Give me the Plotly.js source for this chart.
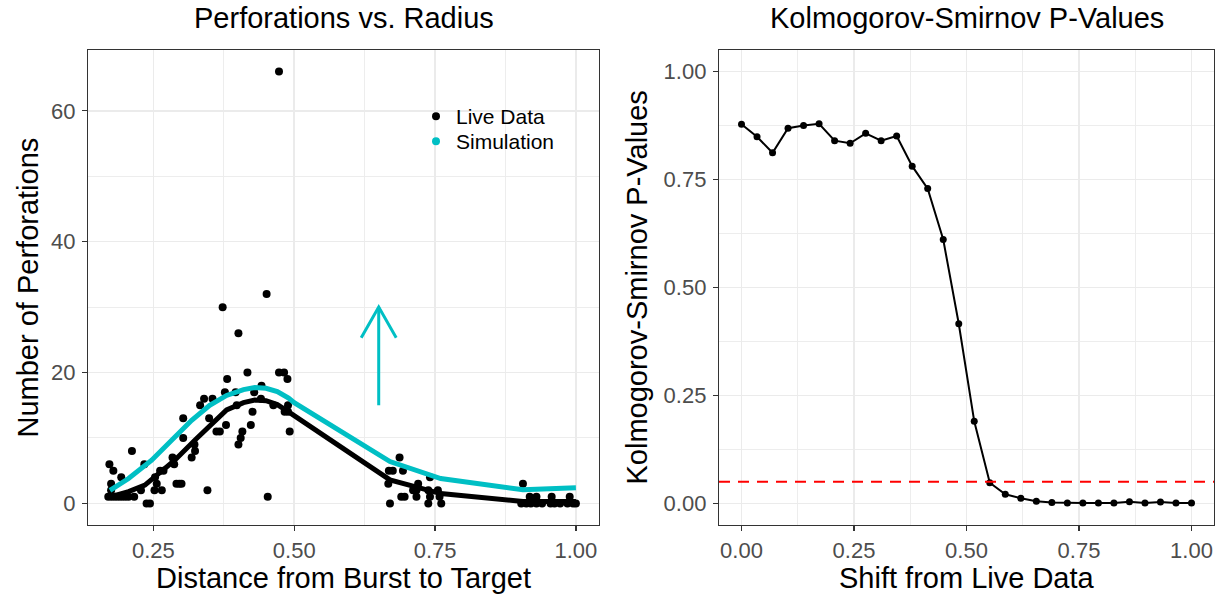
<!DOCTYPE html>
<html><head><meta charset="utf-8">
<script src="https://cdn.plot.ly/plotly-3.0.1.min.js"></script>
<style>html,body{margin:0;padding:0;background:#fff}#chart{width:1217px;height:596px}</style>
</head><body><div id="chart"></div>
<script>
// ---- Left panel: Perforations vs. Radius ----
const liveX = [0.172,0.179,0.193,0.175,0.175,0.212,0.170,0.176,0.182,0.188,0.194,0.200,0.206,0.216,
  0.234,0.228,0.252,0.265,0.238,0.244,0.253,0.256,0.268,0.262,0.287,0.284,0.291,0.296,0.300,
  0.303,0.303,0.323,0.324,0.318,0.333,0.340,0.355,0.349,0.346,0.362,0.368,0.377,0.379,0.381,0.373,
  0.396,0.398,0.401,0.401,0.405,0.408,0.417,0.423,0.426,0.429,0.441,0.442,0.451,0.453,0.463,
  0.473,0.482,0.488,0.483,0.489,0.489,0.492,0.473,
  0.687,0.668,0.675,0.693,0.741,0.667,0.720,0.711,0.717,0.738,0.755,0.690,0.696,0.717,0.741,0.758,0.670,0.738,0.761,
  0.906,0.930,0.957,0.989,0.918,0.903,0.912,0.920,0.930,0.940,0.955,0.962,0.972,0.985,0.995,1.000];
const liveY = [6,5,4,3,2,8,1,1,1,1,1,1,1,1,
  6,2,2,2,0,0,4,3,5,5,6,7,3,3,3,
  10,13,9,8,7,15,16,16,13,2,11,11,17,12,19,30,
  17,15,26,9,10,11,20,12,14,17,16,18,32,1,15,
  20,20,19,14,14,15,11,66,
  7,5,5,5,4,3,3,2,2,2,2,1,1,1,1,1,0,0,0,
  3,1,1,1,1,0,0,0,0,0,0,0,0,0,0,0];
const fitX = [0.173,0.206,0.235,0.26,0.288,0.324,0.348,0.38,0.41,0.43,0.45,0.47,0.49,0.67,0.76,0.906,1.0];
const fitY = [1.0,1.8,2.8,4.5,6.6,9.7,11.7,14.3,15.4,15.8,15.7,15.1,14.0,3.6,1.5,0.3,0.3];
const simX = [0.173,0.206,0.247,0.283,0.318,0.35,0.38,0.41,0.43,0.45,0.47,0.49,0.50,0.67,0.76,0.906,1.0];
const simY = [2.0,3.8,6.6,9.7,12.7,15.0,16.5,17.4,17.7,17.6,17.1,16.1,15.4,6.4,3.8,2.1,2.4];
const arrowX = 0.65, arrowFrom = 15, arrowTo = 30;
const leftXTicks = [0.25,0.50,0.75,1.00], leftXLabels = ["0.25","0.50","0.75","1.00"];
const leftYTicks = [0,20,40,60], leftYLabels = ["0","20","40","60"];

// ---- Right panel: Kolmogorov-Smirnov P-Values ----
const shift = [0,0.0345,0.069,0.1034,0.1379,0.1724,0.2069,0.2414,0.2759,0.3103,0.3448,0.3793,0.4138,0.4483,0.4828,
  0.5172,0.5517,0.5862,0.6207,0.6552,0.6897,0.7241,0.7586,0.7931,0.8276,0.8621,0.8966,0.9310,0.9655,1.0];
const pValues = [0.878,0.849,0.812,0.869,0.875,0.879,0.840,0.834,0.857,0.840,0.851,0.781,0.729,0.611,0.416,
  0.190,0.048,0.021,0.012,0.005,0.002,0.001,0.001,0.001,0.001,0.004,0.001,0.003,0.001,0.001];
const threshold = 0.05;
const rightTicks = [0,0.25,0.5,0.75,1.0], rightLabels = ["0.00","0.25","0.50","0.75","1.00"];

// ---- layout geometry (pixels) ----
const W = 1217, H = 596;
const P1 = {l:88, r:599, t:50, b:525};
const P2 = {l:719, r:1214, t:50, b:525};
const xr1 = [0.134, 1.041], yr1 = [-3.3, 69.3];
const xr2 = [-0.05, 1.05], yr2 = [-0.05, 1.05];
const CYAN = '#00BFC4';
const FONT = 'Liberation Sans, Arial, sans-serif';
const GRID = '#EBEBEB';
const LEG = {l:416, r:578, t:78, b:165, row1:116, row2:141};

const traces = [
  {x: liveX, y: liveY, type:'scatter', mode:'markers', name:'Live Data', xaxis:'x', yaxis:'y',
   marker:{color:'#000', size:8}, legend:'legend'},
  {x: fitX, y: fitY, type:'scatter', mode:'lines', showlegend:false, xaxis:'x', yaxis:'y',
   line:{color:'#000', width:5}},
  {x: simX, y: simY, type:'scatter', mode:'lines', showlegend:false, xaxis:'x', yaxis:'y',
   line:{color:CYAN, width:5}},
  {x:[null], y:[null], type:'scatter', mode:'markers', name:'Simulation', xaxis:'x', yaxis:'y',
   marker:{color:CYAN, size:8}, legend:'legend2'},
  {x: shift, y: pValues, type:'scatter', mode:'lines+markers', showlegend:false, xaxis:'x2', yaxis:'y2',
   line:{color:'#000', width:2}, marker:{color:'#000', size:7}}
];

function ax(domain, range, ticks, labels, minorVals, anchor, isY){
  const a = {domain, range, anchor, tickvals:ticks, ticktext:labels, showgrid:true, gridcolor:GRID, gridwidth:1.5,
    zeroline:false, showline:true, mirror:true, linecolor:'#333333', linewidth:1.2,
    ticks:'outside', ticklen:5, tickwidth:1.2, tickcolor:'#333333',
    tickfont:{family:FONT, size:22, color:'#4D4D4D'},
    minor:{tickvals:minorVals, showgrid:true, gridcolor:GRID, gridwidth:0.9, ticks:''},
    automargin:false, fixedrange:true};
  if (isY) a.ticklabelstandoff = 2;
  return a;
}
const ydom = [(H-P1.b)/H, (H-P1.t)/H];

// arrow head size in px converted through the axis scale
const pxPerX = (P1.r-P1.l)/(xr1[1]-xr1[0]);
const pxPerY = (P1.b-P1.t)/(yr1[1]-yr1[0]);
const hx = 17.5/pxPerX, hy = 30.6/pxPerY;

const legFont = {family:FONT, size:21, color:'#000'};
const layout = {
  width:W, height:H, margin:{l:0,r:0,t:0,b:0}, paper_bgcolor:'#fff', plot_bgcolor:'#fff',
  font:{family:FONT},
  showlegend:true,
  legend:{x:LEG.l/W, y:1-(LEG.row1-20)/H, xanchor:'left', yanchor:'top', bgcolor:'rgba(0,0,0,0)', borderwidth:0,
    font:legFont, itemwidth:30},
  legend2:{x:LEG.l/W, y:1-(LEG.row2-20)/H, xanchor:'left', yanchor:'top', bgcolor:'rgba(0,0,0,0)', borderwidth:0,
    font:legFont, itemwidth:30},
  xaxis: ax([P1.l/W, P1.r/W], xr1, leftXTicks, leftXLabels, [0.375,0.625,0.875], 'y'),
  yaxis: ax(ydom, yr1, leftYTicks, leftYLabels, [10,30,50], 'x', true),
  xaxis2: ax([P2.l/W, P2.r/W], xr2, rightTicks, rightLabels, [0.125,0.375,0.625,0.875], 'y2'),
  yaxis2: ax(ydom, yr2, rightTicks, rightLabels, [0.125,0.375,0.625,0.875], 'x2', true),
  shapes:[
    {type:'rect', xref:'paper', yref:'paper', x0:LEG.l/W, x1:LEG.r/W, y0:1-LEG.b/H, y1:1-LEG.t/H,
     fillcolor:'#fff', line:{width:0}, layer:'between'},
    {type:'line', xref:'x2 domain', yref:'y2', x0:0, x1:1, y0:threshold, y1:threshold,
     line:{color:'#FF0000', width:2, dash:'11px,8px'}, layer:'above'},
    {type:'line', xref:'x', yref:'y', x0:arrowX, x1:arrowX, y0:arrowFrom, y1:arrowTo,
     line:{color:CYAN, width:3}},
    {type:'path', xref:'x', yref:'y',
     path:`M ${arrowX-hx},${arrowTo-hy} L ${arrowX},${arrowTo} L ${arrowX+hx},${arrowTo-hy}`,
     line:{color:CYAN, width:3}}
  ],
  annotations:[
    {text:'Perforations vs. Radius', xref:'paper', yref:'paper', x:(P1.l+P1.r)/2/W, y:1-18/H,
     xanchor:'center', yanchor:'middle', showarrow:false, font:{family:FONT, size:29, color:'#000'}},
    {text:'Kolmogorov-Smirnov P-Values', xref:'paper', yref:'paper', x:(P2.l+P2.r)/2/W, y:1-18/H,
     xanchor:'center', yanchor:'middle', showarrow:false, font:{family:FONT, size:29, color:'#000'}},
    {text:'Distance from Burst to Target', xref:'paper', yref:'paper', x:(P1.l+P1.r)/2/W, y:1-578/H,
     xanchor:'center', yanchor:'middle', showarrow:false, font:{family:FONT, size:29, color:'#000'}},
    {text:'Shift from Live Data', xref:'paper', yref:'paper', x:(P2.l+P2.r)/2/W, y:1-578/H,
     xanchor:'center', yanchor:'middle', showarrow:false, font:{family:FONT, size:29, color:'#000'}},
    {text:'Number of Perforations', xref:'paper', yref:'paper', x:27/W, y:1-(P1.t+P1.b)/2/H,
     xanchor:'center', yanchor:'middle', textangle:-90, showarrow:false, font:{family:FONT, size:29, color:'#000'}},
    {text:'Kolmogorov-Smirnov P-Values', xref:'paper', yref:'paper', x:636/W, y:1-(P2.t+P2.b)/2/H,
     xanchor:'center', yanchor:'middle', textangle:-90, showarrow:false, font:{family:FONT, size:29, color:'#000'}}
  ]
};
Plotly.newPlot('chart', traces, layout, {staticPlot:true, displayModeBar:false});
</script>
</body></html>
